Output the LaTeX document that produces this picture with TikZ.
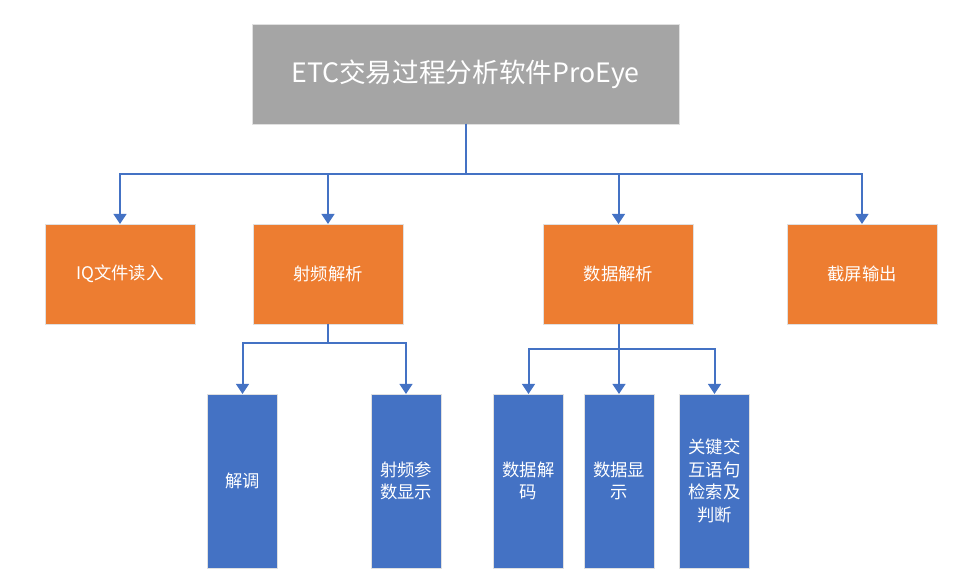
\documentclass[tikz,border=0pt]{standalone}
\usepackage{fontspec}
\setmainfont{Noto Sans CJK SC}
\usetikzlibrary{arrows.meta}

\definecolor{boxgray}{HTML}{A5A5A5}
\definecolor{boxorange}{HTML}{ED7D31}
\definecolor{boxblue}{HTML}{4472C4}

\begin{document}
\begin{tikzpicture}[x=0.75pt,y=-0.75pt,
    box/.style={draw=black!12,line width=0.6pt,text=white,inner sep=0pt,outer sep=0pt,align=center},
    topbox/.style={box,fill=boxgray,minimum width=320.25pt,minimum height=75pt,font=\fontsize{20}{24}\selectfont},
    midbox/.style={box,fill=boxorange,minimum width=112.5pt,minimum height=75pt,font=\fontsize{13}{16}\selectfont},
    leafbox/.style={box,fill=boxblue,minimum width=52.5pt,minimum height=130.5pt,text width=44pt,font=\fontsize{13}{17}\selectfont},
    conn/.style={draw=boxblue,line width=1.5pt,-{Triangle[width=9.5pt,length=7.5pt]}}]
    \useasboundingbox (0,0) rectangle (961,584);

    % Top level
    \node[topbox] (proeye) at (465.5,74) {ETC交易过程分析软件ProEye};

    % Second level
    \node[midbox] (iqread) at (120,274) {IQ文件读入};
    \node[midbox] (rfparse) at (328,274) {射频解析};
    \node[midbox] (dataparse) at (618.5,274) {数据解析};
    \node[midbox] (screenshot) at (862,274) {截屏输出};

    % Third level
    \node[leafbox] (demod) at (242.5,481) {解调};
    \node[leafbox] (rfparam) at (406,481) {射频参\\数显示};
    \node[leafbox] (datadecode) at (528.5,481) {数据解\\码};
    \node[leafbox] (datashow) at (619,481) {数据显\\示};
    \node[leafbox] (keysearch) at (714.5,481) {关键交\\互语句\\检索及\\判断};

    % Connectors
    \coordinate (topbus) at (465.5,174);
    \coordinate (rfbus) at (328,343);
    \coordinate (databus) at (618.5,349);
    \foreach \t in {iqread,rfparse,dataparse,screenshot}
        \draw[conn] (proeye.south) -- (topbus) -| (\t.north);
    \foreach \t in {demod,rfparam}
        \draw[conn] (rfparse.south) -- (rfbus) -| (\t.north);
    \foreach \t in {datadecode,datashow,keysearch}
        \draw[conn] (dataparse.south) -- (databus) -| (\t.north);
\end{tikzpicture}
\end{document}
